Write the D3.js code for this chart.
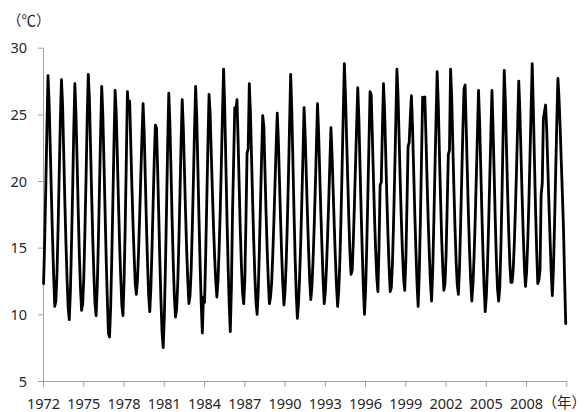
<!DOCTYPE html>
<html>
<head>
<meta charset="utf-8">
<script src="https://d3js.org/d3.v7.min.js"></script>
<style>
  html, body { margin: 0; padding: 0; background: #fff; }
  svg { display: block; }
</style>
</head>
<body>
<script>
// monthly values, one row per year (12 points each)
const temps = [
  12.3, 15.5, 19.5, 24.0, 27.9, 25.8, 22.5, 19.0, 15.8, 13.0, 10.6, 11.0, // 1972
  13.0, 16.5, 20.5, 24.5, 27.6, 25.8, 22.2, 18.6, 15.4, 12.7, 10.5, 9.6,
  11.7, 15.3, 19.3, 23.8, 27.3, 25.0, 21.5, 17.8, 14.5, 12.0, 10.3, 10.8,
  12.8, 16.3, 20.2, 24.6, 28.0, 26.2, 22.6, 19.0, 15.7, 13.0, 10.8, 9.9,  // 1975
  12.0, 15.4, 19.4, 23.6, 27.1, 25.0, 21.5, 17.8, 14.2, 11.2, 8.6, 8.3,
  10.5, 14.2, 18.5, 22.9, 26.8, 25.1, 21.8, 18.4, 15.3, 12.8, 10.7, 9.9,
  12.5, 16.5, 21.5, 26.7, 25.2, 26.0, 22.8, 19.6, 16.8, 14.4, 12.3, 11.5, // 1978
  12.6, 14.8, 17.5, 20.5, 23.3, 25.8, 23.6, 20.2, 16.8, 13.8, 11.4, 10.2,
  12.0, 15.0, 18.3, 21.6, 24.2, 24.0, 21.0, 17.5, 14.0, 11.0, 8.6, 7.5,
  9.8, 13.6, 18.0, 22.8, 26.6, 24.3, 20.7, 17.0, 13.8, 11.3, 9.8, 10.4,   // 1981
  12.3, 15.4, 19.0, 22.9, 26.1, 24.0, 20.8, 17.6, 14.8, 12.5, 10.8, 11.4,
  13.3, 16.4, 20.0, 23.8, 27.1, 24.8, 21.0, 17.2, 13.8, 10.8, 8.6, 11.3,
  10.9, 14.5, 18.6, 22.8, 26.5, 25.0, 22.0, 19.2, 16.6, 14.3, 12.5, 11.3, // 1984
  12.5, 14.8, 17.8, 21.3, 25.0, 28.4, 25.6, 21.5, 17.4, 13.8, 10.8, 8.7,
  12.0, 17.7, 21.5, 25.5, 25.2, 26.1, 23.0, 19.5, 16.2, 13.5, 11.6, 10.8,
  12.6, 17.0, 22.1, 22.4, 27.3, 25.2, 21.8, 18.4, 15.4, 12.8, 10.9, 10.0, // 1987
  11.8, 14.8, 18.3, 21.8, 24.9, 24.1, 20.8, 17.6, 14.8, 12.5, 10.8, 11.3,
  12.4, 14.5, 17.0, 19.8, 22.6, 25.1, 23.0, 20.0, 17.0, 14.4, 12.2, 10.7,
  11.8, 13.9, 16.8, 20.3, 24.2, 28.0, 25.3, 21.5, 17.6, 14.2, 11.5, 9.7,  // 1990
  10.8, 12.8, 15.4, 18.6, 22.0, 25.5, 23.4, 20.4, 17.5, 14.9, 12.6, 11.1,
  12.1, 14.0, 16.5, 19.4, 22.6, 25.8, 23.6, 20.6, 17.6, 15.0, 12.6, 10.8,
  11.7, 13.5, 15.8, 18.4, 21.2, 24.0, 22.0, 19.3, 16.6, 14.2, 12.1, 10.6, // 1993
  11.8, 14.0, 17.2, 21.0, 25.0, 28.8, 26.5, 23.3, 20.2, 17.2, 14.6, 13.0,
  13.3, 15.4, 18.2, 21.2, 24.2, 27.0, 24.7, 21.2, 17.8, 14.8, 12.0, 10.0,
  11.8, 15.0, 18.8, 22.8, 26.7, 26.5, 23.5, 20.3, 17.3, 14.8, 12.8, 11.7, // 1996
  15.0, 19.7, 19.9, 23.8, 27.3, 25.3, 22.0, 18.8, 16.0, 13.6, 11.7, 12.0,
  13.8, 16.8, 20.4, 24.4, 28.4, 26.5, 23.2, 19.9, 17.0, 14.6, 12.7, 11.8,
  14.0, 18.2, 22.6, 22.9, 24.8, 26.4, 24.0, 20.8, 17.6, 14.8, 12.3, 10.6, // 1999
  13.0, 17.0, 21.6, 26.3, 26.1, 26.3, 23.3, 20.0, 17.0, 14.5, 12.4, 11.0,
  13.2, 16.8, 20.8, 24.6, 28.2, 25.8, 22.2, 18.8, 15.8, 13.5, 11.8, 12.3,
  14.5, 18.2, 22.0, 22.3, 28.4, 26.3, 22.8, 19.4, 16.4, 13.9, 12.2, 11.5, // 2002
  13.5, 16.8, 20.3, 23.8, 26.9, 27.2, 24.0, 20.6, 17.4, 14.7, 12.5, 11.0,
  12.2, 14.3, 17.0, 20.2, 23.5, 26.8, 24.4, 21.0, 17.6, 14.6, 12.0, 10.2,
  11.4, 13.6, 16.6, 20.0, 23.4, 26.8, 24.0, 20.5, 17.0, 14.0, 11.9, 11.0, // 2005
  12.0, 15.0, 19.0, 23.6, 28.3, 26.0, 22.5, 19.2, 16.2, 13.8, 12.4, 12.4,
  13.3, 15.3, 17.9, 20.9, 24.2, 27.5, 25.2, 22.0, 18.8, 16.0, 13.6, 12.1,
  13.2, 15.4, 18.3, 21.7, 25.3, 28.8, 25.5, 21.6, 17.9, 14.8, 12.3, 12.6, // 2008
  13.3, 19.0, 19.8, 24.7, 25.2, 25.7, 23.8, 21.0, 18.2, 15.6, 13.2, 11.4,
  13.4, 16.8, 20.6, 24.4, 27.7, 26.2, 24.0, 21.5, 19.0, 16.4, 12.6, 9.3
];
const yearLabels = ["1972","1975","1978","1981","1984","1987","1990","1993","1996","1999","2002","2005","2008"];
const yTicks = [5, 10, 15, 20, 25, 30];
const yUnit = "（℃）";
const xUnit = "（年）";

const width = 587, height = 412;
const plot = {left: 43, right: 566.3, top: 47.7, bottom: 381};
const axisColor = "#a0a0a0";
const textColor = "#262626";
const font = "'Noto Sans', 'Open Sans', sans-serif";

var xScale = d3.scaleLinear().domain([0, temps.length]).range([plot.left, plot.right]);
var yScale = d3.scaleLinear().domain([5, 30]).range([plot.bottom, plot.top]);

// a tick every 36 months, plus one at the end of the axis
var xTickValues = d3.range(0, temps.length + 1, 36);

var svg = d3.select("body").append("svg")
    .attr("width", width)
    .attr("height", height);

function drawAxes() {
    var yAxis = d3.axisLeft(yScale)
        .tickValues(yTicks)
        .tickSize(5)
        .tickSizeOuter(0)
        .tickPadding(11);

    var gy = svg.append("g")
        .attr("class", "y axis")
        .attr("transform", "translate(" + plot.left + ",0)")
        .call(yAxis);

    var xAxis = d3.axisBottom(xScale)
        .tickValues(xTickValues)
        .tickSize(6)
        .tickSizeOuter(0)
        .tickFormat(function(d, i) { return yearLabels[i] || ""; });

    var gx = svg.append("g")
        .attr("class", "x axis")
        .attr("transform", "translate(0," + plot.bottom + ")")
        .call(xAxis);

    [gx, gy].forEach(function(g) {
        g.select(".domain").attr("stroke", axisColor).attr("stroke-width", 1);
        g.selectAll(".tick line").attr("stroke", axisColor).attr("stroke-width", 1);
        g.selectAll(".tick text")
            .attr("fill", textColor)
            .style("font-family", font)
            .style("font-size", "14.5px");
    });

    gx.selectAll(".tick text").attr("y", 27.5).attr("dy", null);
    gy.selectAll(".tick text").attr("dy", "0.36em");
}

function drawUnits() {
    svg.append("text")
        .attr("x", 7)
        .attr("y", 25.5)
        .attr("fill", textColor)
        .style("font-family", "'Noto Sans CJK JP', sans-serif")
        .style("font-size", "14.5px")
        .text(yUnit);

    svg.append("text")
        .attr("x", 586)
        .attr("y", 407.5)
        .attr("text-anchor", "end")
        .attr("fill", textColor)
        .style("font-family", "'Noto Sans CJK JP', sans-serif")
        .style("font-size", "14.5px")
        .text(xUnit);
}

function drawLine() {
    var line = d3.line()
        .x(function(d, i) { return xScale(i + 0.5); })
        .y(function(d) { return yScale(d); });

    svg.append("path")
        .datum(temps)
        .attr("fill", "none")
        .attr("stroke", "#000")
        .attr("stroke-width", 2.8)
        .attr("stroke-linejoin", "round")
        .attr("stroke-linecap", "round")
        .attr("d", line);
}

drawAxes();
drawLine();
drawUnits();
</script>
</body>
</html>
